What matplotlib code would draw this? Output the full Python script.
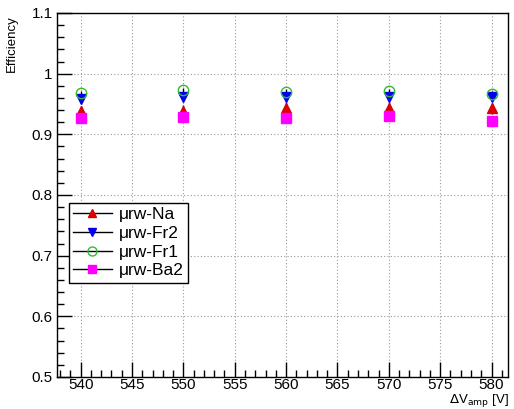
import matplotlib
matplotlib.use("Agg")
import matplotlib.pyplot as plt
from matplotlib.ticker import MultipleLocator
from matplotlib.lines import Line2D

plt.rcParams['font.family'] = ['Liberation Sans', 'DejaVu Sans']

voltages = [540, 550, 560, 570, 580]
eff_na = [0.938, 0.939, 0.944, 0.944, 0.943]
err_na = [0.009, 0.009, 0.009, 0.009, 0.009]
eff_fr2 = [0.958, 0.962, 0.961, 0.962, 0.961]
err_fr2 = [0.006, 0.006, 0.006, 0.006, 0.006]
eff_fr1 = [0.968, 0.973, 0.970, 0.971, 0.967]
err_fr1 = [0.004, 0.004, 0.004, 0.004, 0.004]
eff_ba2 = [0.927, 0.928, 0.927, 0.930, 0.922]
err_ba2 = [0.007, 0.007, 0.007, 0.007, 0.007]

labels = ["μrw-Na", "μrw-Fr2", "μrw-Fr1", "μrw-Ba2"]

W, H = 514, 409
fig = plt.figure(figsize=(W / 100, H / 100), dpi=100)
ax = fig.add_axes([57 / W, 1 - 377 / H, (508 - 57) / W, (377 - 13) / H])

series = [
    (eff_na, err_na, dict(marker='^', mfc='#dd0000', mec='#dd0000', ms=6.5, mew=1.0)),
    (eff_fr2, err_fr2, dict(marker='v', mfc='#0000ee', mec='#0000ee', ms=6.5, mew=1.0)),
    (eff_fr1, err_fr1, dict(marker='o', mfc='none', mec='#33bb33', ms=7.5, mew=1.0)),
    (eff_ba2, err_ba2, dict(marker='s', mfc='#ff00ff', mec='#ff00ff', ms=6.5, mew=1.0)),
]

handles = []
for (vals, errs, st), lab in zip(series, labels):
    ax.errorbar(voltages, vals, yerr=errs, fmt='none', ecolor='black', elinewidth=1.0, capsize=0, zorder=3)
    ax.plot(voltages, vals, linestyle='none', zorder=4, **st)
    h = Line2D([], [], color='black', lw=1.0, marker=st['marker'], mfc=st['mfc'], mec=st['mec'],
               ms=st['ms'] - 1, mew=st['mew'])
    handles.append(h)

ax.set_xlim(537.7, 581.6)
ax.set_ylim(0.5, 1.1)
ax.xaxis.set_major_locator(MultipleLocator(5))
ax.xaxis.set_minor_locator(MultipleLocator(1))
ax.yaxis.set_minor_locator(MultipleLocator(0.02))
ax.set_yticks([0.5, 0.6, 0.7, 0.8, 0.9, 1.0, 1.1])
ax.set_yticklabels(["0.5", "0.6", "0.7", "0.8", "0.9", "1", "1.1"])

ax.tick_params(which='major', direction='in', length=11, width=1.0, labelsize=11, top=False, right=False)
ax.tick_params(which='minor', direction='in', length=5, width=1.0, top=False, right=False)
ax.tick_params(axis='x', pad=1)
ax.tick_params(axis='y', pad=3)

ax.grid(True, which='major', linestyle=(0, (1, 2)), color='#999999', linewidth=0.8)
ax.set_axisbelow(True)
for sp in ax.spines.values():
    sp.set_linewidth(1.0)

fig.text(12 / W, 1 - 15 / H, "Efficiency", rotation=90, ha='center', va='top', fontsize=9.5)
fig.text(509 / W, 0.0, r"$\Delta$V$_{\rm amp}$ [V]", ha='right', va='bottom', fontsize=9.5)

leg = ax.legend(handles, labels, loc='upper left', bbox_to_anchor=((69 - 57) / (508 - 57), (377 - 203) / (377 - 13)),
                frameon=True, fancybox=False, edgecolor='black', framealpha=1, fontsize=12.5,
                handlelength=2.2, handletextpad=0.4, borderpad=0.25, labelspacing=0.2, borderaxespad=0)
leg.get_frame().set_linewidth(1.0)

fig.savefig("out.png", dpi=100)
